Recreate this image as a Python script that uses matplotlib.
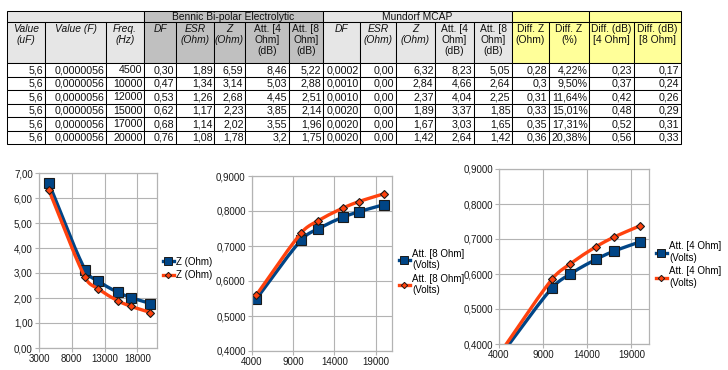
import numpy as np
import matplotlib
matplotlib.use("Agg")
import matplotlib.pyplot as plt
from matplotlib.patches import Rectangle
from matplotlib.ticker import FuncFormatter, FixedLocator

plt.rcParams['font.family'] = ['Liberation Sans', 'DejaVu Sans']

# ---------------- data ----------------
freq = [4500, 10000, 12000, 15000, 17000, 20000]
value_uF = ["5,6"] * 6
value_F = ["0,0000056"] * 6
bennic_df = ["0,30", "0,47", "0,53", "0,62", "0,68", "0,76"]
bennic_esr = ["1,89", "1,34", "1,26", "1,17", "1,14", "1,08"]
bennic_z = [6.59, 3.14, 2.68, 2.23, 2.02, 1.78]
bennic_att4 = ["8,46", "5,03", "4,45", "3,85", "3,55", "3,2"]
bennic_att8 = ["5,22", "2,88", "2,51", "2,14", "1,96", "1,75"]
mundorf_df = ["0,0002", "0,0010", "0,0010", "0,0020", "0,0020", "0,0020"]
mundorf_esr = ["0,00"] * 6
mundorf_z = [6.32, 2.84, 2.37, 1.89, 1.67, 1.42]
mundorf_att4 = ["8,23", "4,66", "4,04", "3,37", "3,03", "2,64"]
mundorf_att8 = ["5,05", "2,64", "2,25", "1,85", "1,65", "1,42"]
diff_z = ["0,28", "0,3", "0,31", "0,33", "0,35", "0,36"]
diff_z_pct = ["4,22%", "9,50%", "11,64%", "15,01%", "17,31%", "20,38%"]
diff_db4 = ["0,23", "0,37", "0,42", "0,48", "0,52", "0,56"]
diff_db8 = ["0,17", "0,24", "0,26", "0,29", "0,31", "0,33"]

bennic_v8 = [0.548, 0.718, 0.749, 0.782, 0.798, 0.818]
mundorf_v8 = [0.559, 0.738, 0.772, 0.808, 0.827, 0.849]
bennic_v4 = [0.378, 0.560, 0.599, 0.642, 0.665, 0.692]
mundorf_v4 = [0.388, 0.585, 0.628, 0.678, 0.705, 0.738]

headers = [("Value\n(uF)", True), ("Value (F)", True), ("Freq.\n(Hz)", True),
           ("DF", True), ("ESR\n(Ohm)", True), ("Z\n(Ohm)", True),
           ("Att. [4\nOhm]\n(dB)", False), ("Att. [8\nOhm]\n(dB)", False),
           ("DF", True), ("ESR\n(Ohm)", True), ("Z\n(Ohm)", True),
           ("Att. [4\nOhm]\n(dB)", False), ("Att. [8\nOhm]\n(dB)", False),
           ("Diff. Z\n(Ohm)", False), ("Diff. Z\n(%)", False),
           ("Diff. (dB)\n[4 Ohm]", False), ("Diff. (dB)\n[8 Ohm]", False)]
groups = [(0, 3, ""), (3, 8, "Bennic Bi-polar Electrolytic"), (8, 13, "Mundorf MCAP"),
          (13, 15, ""), (15, 17, "")]

W, H = 728, 370
fig = plt.figure(figsize=(W / 100, H / 100), dpi=100)

# ---------------- table ----------------
tab = fig.add_axes([0, 0, 1, 1])
tab.set_xlim(0, W)
tab.set_ylim(H, 0)
tab.axis('off')

col_edges = [7, 45, 106, 144, 176, 214, 245, 289, 323, 360, 396, 435, 474, 512, 549, 589, 634, 681]
r_top, r1, r2 = 11, 22, 63
row_h = 13.5
LG, DG, YE = '#e6e6e6', '#c0c0c0', '#ffff99'

def col_color(c):
    if 3 <= c < 8:
        return DG
    if c >= 13:
        return YE
    return LG

lw = 0.75
fs = 7.4
for (a, b, label) in groups:
    x0, x1 = col_edges[a], col_edges[b]
    tab.add_patch(Rectangle((x0, r_top), x1 - x0, r1 - r_top, facecolor=col_color(a),
                            edgecolor='black', lw=lw))
    if label:
        tab.text((x0 + x1) / 2, (r_top + r1) / 2 + 0.5, label, ha='center', va='center',
                 fontsize=fs, color='#111111')

for c, (lab, it) in enumerate(headers):
    x0, x1 = col_edges[c], col_edges[c + 1]
    tab.add_patch(Rectangle((x0, r1), x1 - x0, r2 - r1, facecolor=col_color(c),
                            edgecolor='black', lw=lw))
    tab.text((x0 + x1) / 2, r1 + 2, lab, ha='center', va='top', fontsize=fs,
             style='italic' if it else 'normal', linespacing=1.15, color='#111111')

columns = [value_uF, value_F, [str(f) for f in freq], bennic_df, bennic_esr,
           ["%.2f" % v for v in bennic_z], bennic_att4, bennic_att8,
           mundorf_df, mundorf_esr, ["%.2f" % v for v in mundorf_z], mundorf_att4, mundorf_att8,
           diff_z, diff_z_pct, diff_db4, diff_db8]

for r in range(len(freq)):
    y0 = r2 + r * row_h
    for c, colvals in enumerate(columns):
        x0, x1 = col_edges[c], col_edges[c + 1]
        tab.add_patch(Rectangle((x0, y0), x1 - x0, row_h, facecolor='white',
                                edgecolor='black', lw=lw))
        tab.text(x1 - 1.5, y0 + row_h / 2 + 0.5, colvals[r].replace('.', ','),
                 ha='right', va='center', fontsize=fs + 0.3, color='#111111')

# ---------------- charts ----------------
BLUE, ORANGE = '#004586', '#ff420e'
GRID = '#b3b3b3'

def smooth_curve(x, y, n=40):
    """Cubic Hermite curve through the points (drawing only), monotonicity-limited."""
    x = np.asarray(x, float)
    y = np.asarray(y, float)
    h = np.diff(x)
    d = np.diff(y) / h
    m = np.zeros_like(y)
    m[0], m[-1] = d[0], d[-1]
    for i in range(1, len(x) - 1):
        m[i] = (y[i + 1] - y[i - 1]) / (x[i + 1] - x[i - 1])
    for i in range(len(x) - 1):
        if d[i] == 0:
            m[i] = m[i + 1] = 0
            continue
        a, b = m[i] / d[i], m[i + 1] / d[i]
        s = a * a + b * b
        if s > 9:
            t = 3 / np.sqrt(s)
            m[i], m[i + 1] = t * a * d[i], t * b * d[i]
    xs, ys = [], []
    for i in range(len(x) - 1):
        t = np.linspace(0, 1, n)
        h00 = 2 * t ** 3 - 3 * t ** 2 + 1
        h10 = t ** 3 - 2 * t ** 2 + t
        h01 = -2 * t ** 3 + 3 * t ** 2
        h11 = t ** 3 - t ** 2
        xs.append(x[i] + t * h[i])
        ys.append(h00 * y[i] + h10 * h[i] * m[i] + h01 * y[i + 1] + h11 * h[i] * m[i + 1])
    return np.concatenate(xs), np.concatenate(ys)

def make_ax(l, t, r, b):
    return fig.add_axes([l / W, 1 - b / H, (r - l) / W, (b - t) / H])

def style_ax(ax, xlim, xticks, ylim, yticks, yfmt):
    ax.set_xlim(*xlim)
    ax.set_ylim(*ylim)
    ax.xaxis.set_major_locator(FixedLocator(xticks))
    ax.yaxis.set_major_locator(FixedLocator(yticks))
    ax.yaxis.set_major_formatter(FuncFormatter(lambda v, p: (yfmt % v).replace('.', ',')))
    ax.grid(True, color=GRID, lw=0.8)
    ax.set_axisbelow(True)
    for s in ax.spines.values():
        s.set_color(GRID)
        s.set_linewidth(0.9)
    ax.tick_params(axis='both', colors=GRID, labelcolor='#1a1a1a', labelsize=7,
                   length=3, width=0.8, pad=1.5, direction='out')

def draw_series(ax, x, y, color, marker, ms, label):
    sx, sy = smooth_curve(x, y)
    ax.plot(sx, sy, color=color, lw=2.4, solid_capstyle='round')
    ax.plot(x, y, ls='none', marker=marker, ms=ms, mfc=color, mec='#1a1a1a', mew=0.8)
    return ax.plot([], [], color=color, lw=2.4, marker=marker, ms=ms * 0.75, mfc=color,
                   mec='#1a1a1a', mew=0.7, label=label)[0]

def legend(ax, handles, x, y):
    ax.legend(handles=handles, loc='center left', bbox_to_anchor=(x / W, 1 - y / H),
              bbox_transform=fig.transFigure, frameon=False, fontsize=7,
              handlelength=1.1, handletextpad=0.25, borderpad=0, labelspacing=0.35,
              borderaxespad=0)

# Chart 1: Z
ax1 = make_ax(39, 173, 157, 348)
style_ax(ax1, (3000, 21000), [3000, 8000, 13000, 18000], (0, 7),
         [0, 1, 2, 3, 4, 5, 6, 7], "%.2f")
h1 = draw_series(ax1, freq, bennic_z, BLUE, 's', 6.8, "Z (Ohm)")
h2 = draw_series(ax1, freq, mundorf_z, ORANGE, 'D', 4.3, "Z (Ohm)")
legend(ax1, [h1, h2], 163, 268.5)

# Chart 2: Att 8 Ohm (Volts)
ax2 = make_ax(252, 176, 392, 351)
style_ax(ax2, (4000, 21000), [4000, 9000, 14000, 19000], (0.4, 0.9),
         [0.4, 0.5, 0.6, 0.7, 0.8, 0.9], "%.4f")
h1 = draw_series(ax2, freq, bennic_v8, BLUE, 's', 6.8, "Att. [8 Ohm]\n(Volts)")
h2 = draw_series(ax2, freq, mundorf_v8, ORANGE, 'D', 4.3, "Att. [8 Ohm]\n(Volts)")
legend(ax2, [h1, h2], 399, 272)

# Chart 3: Att 4 Ohm (Volts)
ax3 = make_ax(499, 169, 649, 344)
style_ax(ax3, (4000, 21000), [4000, 9000, 14000, 19000], (0.4, 0.9),
         [0.4, 0.5, 0.6, 0.7, 0.8, 0.9], "%.4f")
h1 = draw_series(ax3, freq, bennic_v4, BLUE, 's', 6.8, "Att. [4 Ohm]\n(Volts)")
h2 = draw_series(ax3, freq, mundorf_v4, ORANGE, 'D', 4.3, "Att. [4 Ohm]\n(Volts)")
legend(ax3, [h1, h2], 656, 264.5)

fig.savefig("out.png", dpi=100)
